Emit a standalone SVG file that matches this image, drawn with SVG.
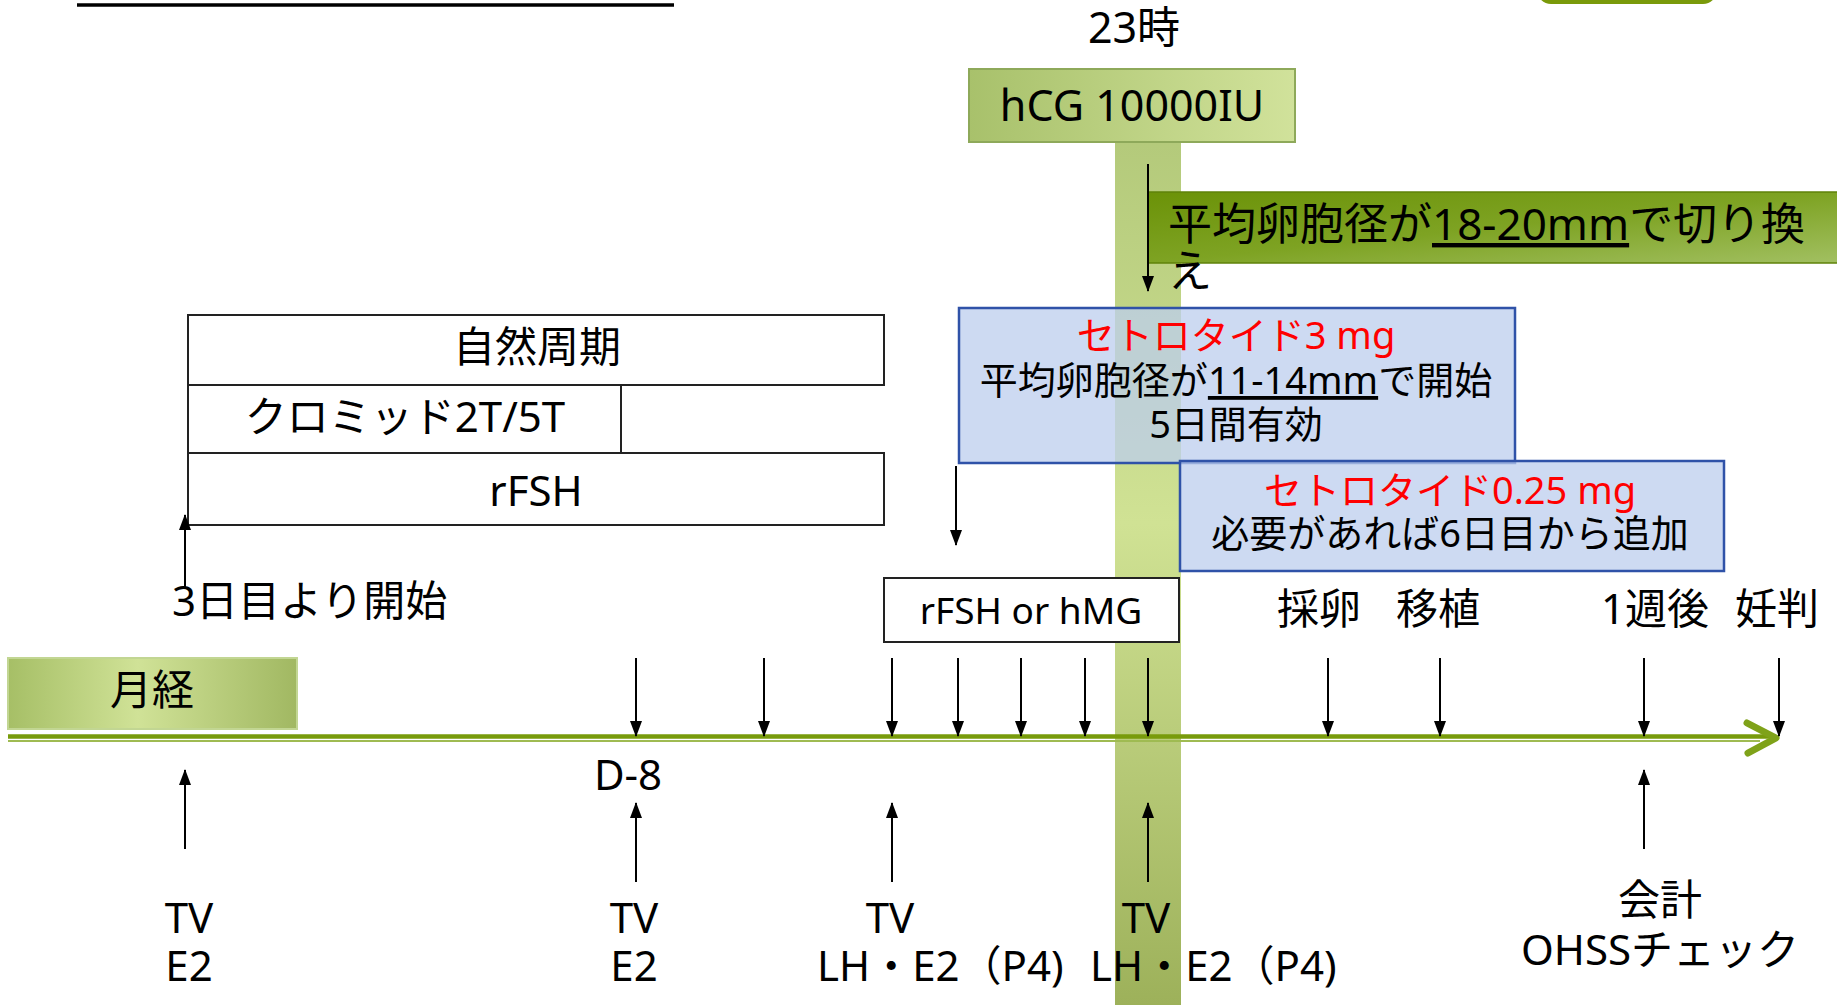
<svg xmlns="http://www.w3.org/2000/svg" width="1837" height="1005" viewBox="0 0 1837 1005">
<defs>
<style>
text{font-family:"Noto Sans","Noto Sans CJK JP",sans-serif;fill:#000}
.t42{font-size:42px}
.t38{font-size:38px}
.red{fill:#ff0000}
.wbox{fill:#fff;stroke:#222;stroke-width:2}
.bbox{fill:#bccdee;fill-opacity:0.75;stroke:#2f52a8;stroke-width:2.5}
.arr{stroke:#000;stroke-width:2;fill:none;marker-end:url(#ah)}
</style>
<marker id="ah" markerWidth="16" markerHeight="12" refX="15" refY="6" orient="auto" markerUnits="userSpaceOnUse" viewBox="0 0 16 12">
<path d="M0,0 L16,6 L0,12 Z" fill="#000"/>
</marker>
<linearGradient id="band" x1="0" y1="0" x2="0" y2="1">
<stop offset="0" stop-color="#b3c97a"/>
<stop offset="0.45" stop-color="#d0e294"/>
<stop offset="1" stop-color="#9db15a"/>
</linearGradient>
<linearGradient id="hcg" x1="0" y1="0" x2="1" y2="0">
<stop offset="0" stop-color="#a8c16b"/>
<stop offset="1" stop-color="#d1e29b"/>
</linearGradient>
<linearGradient id="banner" x1="0" y1="0" x2="1" y2="1">
<stop offset="0" stop-color="#6b9208"/>
<stop offset="0.5" stop-color="#7ea323"/>
<stop offset="1" stop-color="#a2c062"/>
</linearGradient>
<linearGradient id="mens" x1="0" y1="0" x2="1" y2="0">
<stop offset="0" stop-color="#a6bf66"/>
<stop offset="0.45" stop-color="#d0e297"/>
<stop offset="1" stop-color="#a1b862"/>
</linearGradient>
</defs>

<!-- top decorations -->
<line x1="77" y1="5" x2="674" y2="5" stroke="#000" stroke-width="3.5"/>
<rect x="1537" y="-40" width="180" height="44" rx="14" fill="#7a9a0a"/>

<!-- vertical band -->
<rect x="1115" y="130" width="66" height="875" fill="url(#band)"/>

<!-- timeline -->
<g id="timeline">
<line x1="8" y1="736.5" x2="1770" y2="736.5" stroke="#789b0b" stroke-width="4.5"/>
<line x1="8" y1="741" x2="1760" y2="741" stroke="#9fbb52" stroke-width="2"/>
<polyline points="1747,723 1776,738 1748,753" fill="none" stroke="#7fa219" stroke-width="7" stroke-linecap="round" stroke-linejoin="round"/>
</g>

<g id="n-23ji"><text x="1134" y="43" font-size="43" text-anchor="middle">23時</text></g>

<g id="n-hcg">
<rect x="969" y="69" width="326" height="73" fill="url(#hcg)" stroke="#8ea95a" stroke-width="2"/>
<text x="1132" y="121" font-size="43" text-anchor="middle">hCG 10000IU</text>
</g>

<g id="n-banner">
<rect x="1148" y="192" width="695" height="71" fill="url(#banner)" stroke="#5f820a" stroke-width="1.5"/>
<text x="1168" y="240" font-size="44">平均卵胞径が<tspan text-decoration="underline">18-20mm</tspan>で切り換</text>
<text x="1168" y="287" font-size="44">え</text>
</g>

<g id="n-shizen">
<rect class="wbox" x="188" y="315" width="696" height="70"/>
<text class="t42" x="537" y="362" text-anchor="middle">自然周期</text>
</g>
<g id="n-clomid">
<rect class="wbox" x="188" y="385" width="433" height="68"/>
<text class="t42" x="405" y="432" text-anchor="middle">クロミッド2T/5T</text>
</g>
<g id="n-rfsh">
<rect class="wbox" x="188" y="453" width="696" height="72"/>
<text class="t42" x="536" y="506" text-anchor="middle">rFSH</text>
</g>
<g id="n-start"><text class="t42" x="172" y="616">3日目より開始</text></g>

<g id="n-cetro3">
<rect class="bbox" x="959" y="308" width="556" height="155"/>
<text class="t38 red" x="1236" y="349" text-anchor="middle">セトロタイド3 mg</text>
<text class="t38" x="1236" y="394" text-anchor="middle">平均卵胞径が<tspan text-decoration="underline">11-14mm</tspan>で開始</text>
<text class="t38" x="1236" y="438" text-anchor="middle">5日間有効</text>
</g>
<g id="n-cetro025">
<rect class="bbox" x="1180" y="461" width="544" height="110"/>
<text class="t38 red" x="1450" y="504" text-anchor="middle">セトロタイド0.25 mg</text>
<text class="t38" x="1450" y="547" text-anchor="middle">必要があれば6日目から追加</text>
</g>

<g id="n-rfshhmg">
<rect class="wbox" x="884" y="578" width="295" height="64"/>
<text x="1031" y="624" font-size="37" text-anchor="middle">rFSH or hMG</text>
</g>

<g id="n-mens">
<rect x="8" y="658" width="289" height="71" fill="url(#mens)" stroke="#c2d693" stroke-width="2"/>
<text class="t42" x="152" y="705" text-anchor="middle">月経</text>
</g>

<g id="n-top-labels">
<text class="t42" x="1319" y="624" text-anchor="middle">採卵</text>
<text class="t42" x="1438" y="624" text-anchor="middle">移植</text>
<text class="t42" x="1655" y="624" text-anchor="middle">1週後</text>
<text class="t42" x="1777" y="624" text-anchor="middle">妊判</text>
</g>

<g id="n-bottom-labels">
<text class="t42" x="628" y="790" text-anchor="middle">D-8</text>
<text class="t42" x="189" y="933" text-anchor="middle">TV</text>
<text class="t42" x="189" y="981" text-anchor="middle">E2</text>
<text class="t42" x="634" y="933" text-anchor="middle">TV</text>
<text class="t42" x="634" y="981" text-anchor="middle">E2</text>
<text class="t42" x="890" y="933" text-anchor="middle">TV</text>
<text class="t42" x="817" y="981">LH・E2（P4)</text>
<text class="t42" x="1146" y="933" text-anchor="middle">TV</text>
<text class="t42" x="1090" y="981">LH・E2（P4)</text>
<text class="t42" x="1660" y="915" text-anchor="middle">会計</text>
<text class="t42" x="1660" y="965" text-anchor="middle">OHSSチェック</text>
</g>

<g id="connectors">
<line class="arr" x1="1148" y1="164" x2="1148" y2="291"/>
<line class="arr" x1="185" y1="587" x2="185" y2="515"/>
<line class="arr" x1="956" y1="466" x2="956" y2="545"/>
<line class="arr" x1="636" y1="658" x2="636" y2="736"/>
<line class="arr" x1="764" y1="658" x2="764" y2="736"/>
<line class="arr" x1="892" y1="658" x2="892" y2="736"/>
<line class="arr" x1="958" y1="658" x2="958" y2="736"/>
<line class="arr" x1="1021" y1="658" x2="1021" y2="736"/>
<line class="arr" x1="1085" y1="658" x2="1085" y2="736"/>
<line class="arr" x1="1148" y1="658" x2="1148" y2="736"/>
<line class="arr" x1="1328" y1="658" x2="1328" y2="736"/>
<line class="arr" x1="1440" y1="658" x2="1440" y2="736"/>
<line class="arr" x1="1644" y1="658" x2="1644" y2="736"/>
<line class="arr" x1="1779" y1="658" x2="1779" y2="736"/>
<line class="arr" x1="185" y1="849" x2="185" y2="770"/>
<line class="arr" x1="636" y1="882" x2="636" y2="803"/>
<line class="arr" x1="892" y1="882" x2="892" y2="803"/>
<line class="arr" x1="1148" y1="882" x2="1148" y2="803"/>
<line class="arr" x1="1644" y1="849" x2="1644" y2="770"/>
</g>
</svg>
